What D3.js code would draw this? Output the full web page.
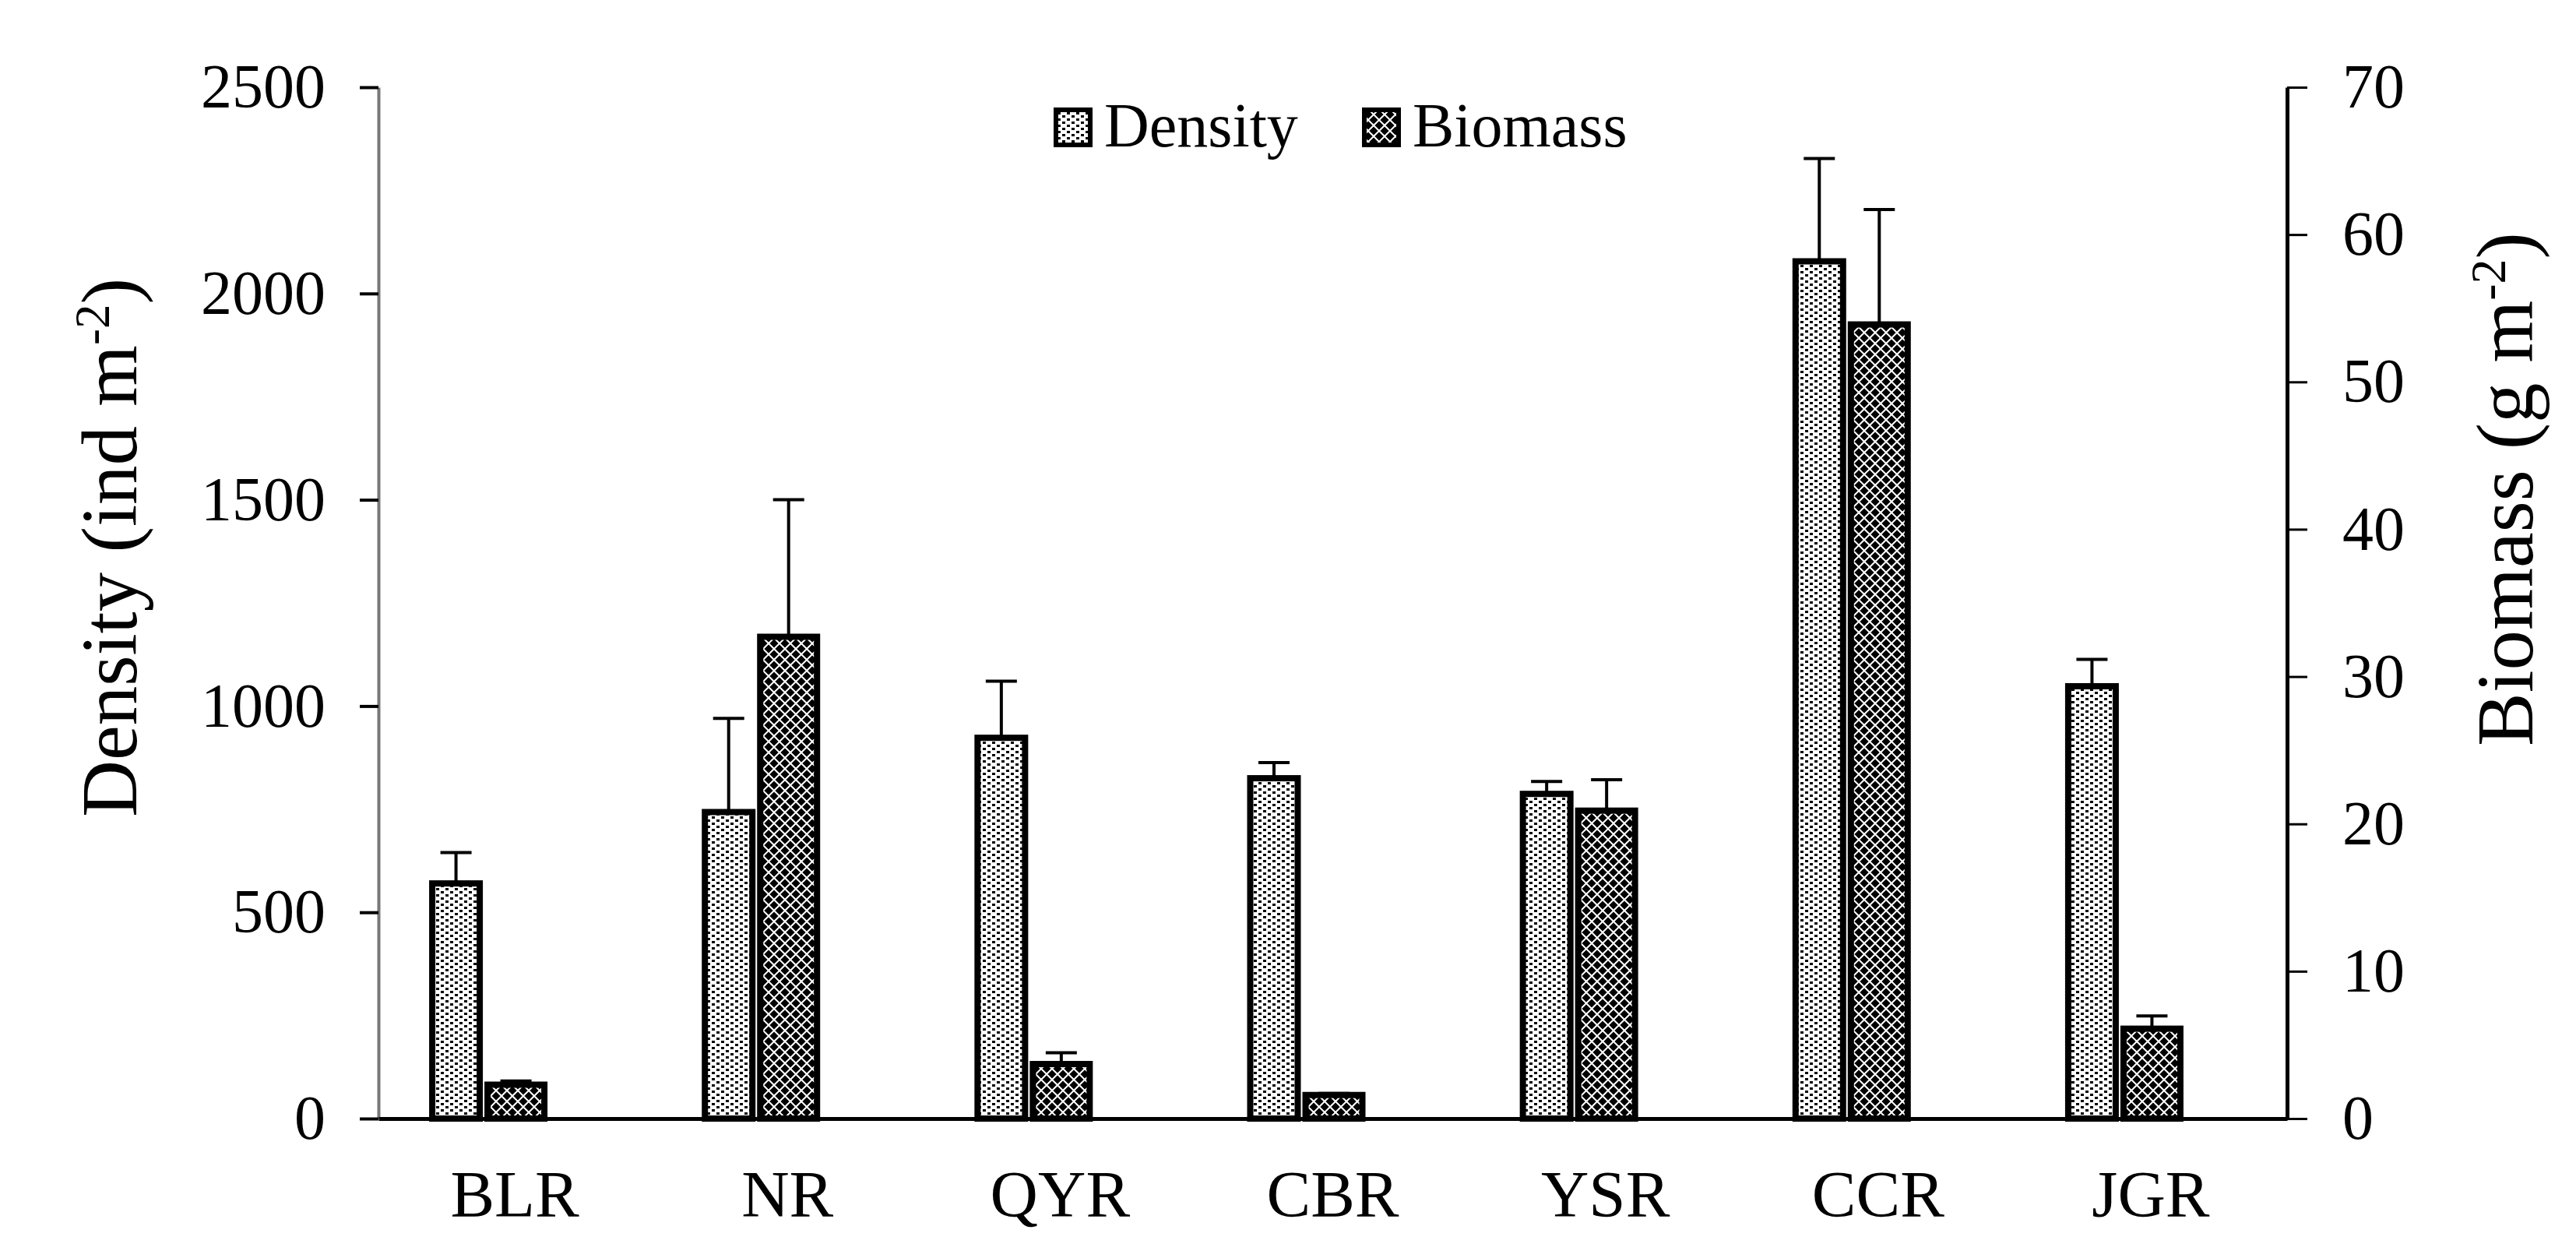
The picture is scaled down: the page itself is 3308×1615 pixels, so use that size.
<!DOCTYPE html>
<html lang="en">
<head>
    <meta charset="UTF-8">
    <title>Density and Biomass</title>
    <style>
        body {
            margin: 0;
            background: #ffffff;
        }
        #chart text {
            font-family: "Times New Roman", "Liberation Serif", serif;
            fill: #000;
        }
    </style>
    <script src="https://d3js.org/d3.v7.min.js"></script>
</head>
<body>
<div id="chart"></div>

<script>
    // Reservoirs on the x axis
    const categories = ["BLR", "NR", "QYR", "CBR", "YSR", "CCR", "JGR"];

    // Density (ind m-2) and its SD
    const density = [570, 743, 923, 825, 787, 2078, 1048];
    const densityErr = [75, 227, 137, 38, 30, 249, 65];

    // Biomass (g m-2) and its SD
    const biomass = [2.3, 32.7, 3.7, 1.6, 20.9, 53.9, 6.1];
    const biomassErr = [0.25, 9.3, 0.77, 0.1, 2.1, 7.8, 0.86];

    // Tick labels for the two value axes
    const densityTicks = [0, 500, 1000, 1500, 2000, 2500];
    const biomassTicks = [0, 10, 20, 30, 40, 50, 60, 70];

    const seriesNames = ["Density", "Biomass"];

    const W = 3308, H = 1615;
    const plotLeft = 486, plotRight = 2937, plotTop = 112, plotBottom = 1436;

    const svg = d3.select("#chart").append("svg")
        .attr("width", W)
        .attr("height", H)
        .style("display", "block");

    svg.append("rect").attr("width", W).attr("height", H).attr("fill", "#fff");

    // Fill patterns (dotted for density, diamond lattice for biomass)
    const defs = svg.append("defs");
    const pDots = defs.append("pattern")
        .attr("id", "dots")
        .attr("patternUnits", "userSpaceOnUse")
        .attr("width", 12).attr("height", 8);
    pDots.append("rect").attr("width", 12).attr("height", 8).attr("fill", "#fff");
    pDots.append("rect").attr("x", 2).attr("y", 0).attr("width", 4).attr("height", 3).attr("fill", "#000");
    pDots.append("rect").attr("x", 8).attr("y", 4).attr("width", 4).attr("height", 3).attr("fill", "#000");

    const pDiam = defs.append("pattern")
        .attr("id", "diamonds")
        .attr("patternUnits", "userSpaceOnUse")
        .attr("width", 14).attr("height", 14);
    pDiam.append("rect").attr("width", 14).attr("height", 14).attr("fill", "#000");
    pDiam.append("path")
        .attr("d", "M0,7 L7,0 L14,7 L7,14 Z")
        .attr("fill", "none")
        .attr("stroke", "#fff")
        .attr("stroke-width", 2);

    // Scales
    const x = d3.scaleBand().domain(categories).range([plotLeft, plotRight]);
    const yL = d3.scaleLinear().domain([0, 2500]).range([plotBottom, plotTop]);
    const yR = d3.scaleLinear().domain([0, 70]).range([plotBottom, plotTop]);

    // Bars sit left of the band centre: biomass on the centre, density next to it
    const dOff = -106, dW = 61;
    const bOff = -35, bW = 73;
    const cx = c => x(c) + x.bandwidth() / 2;

    const rows = categories.map((c, i) => ({
        c: c, d: density[i], de: densityErr[i], b: biomass[i], be: biomassErr[i]
    }));

    // Density bars
    svg.selectAll(".dbar")
        .data(rows)
        .enter().append("rect")
        .attr("class", "dbar")
        .attr("x", d => cx(d.c) + dOff)
        .attr("y", d => yL(d.d))
        .attr("width", dW)
        .attr("height", d => yL(0) - yL(d.d))
        .attr("fill", "url(#dots)")
        .attr("stroke", "#000")
        .attr("stroke-width", 8);

    // Biomass bars
    svg.selectAll(".bbar")
        .data(rows)
        .enter().append("rect")
        .attr("class", "bbar")
        .attr("x", d => cx(d.c) + bOff)
        .attr("y", d => yR(d.b))
        .attr("width", bW)
        .attr("height", d => yR(0) - yR(d.b))
        .attr("fill", "url(#diamonds)")
        .attr("stroke", "#000")
        .attr("stroke-width", 8);

    // Error bars (upper half only)
    function errorBars(cls, xc, yTop, yEnd) {
        const g = svg.selectAll("." + cls)
            .data(rows)
            .enter().append("g")
            .attr("class", cls);
        g.append("line")
            .attr("x1", xc).attr("x2", xc)
            .attr("y1", yTop).attr("y2", yEnd)
            .attr("stroke", "#000").attr("stroke-width", 4);
        g.append("line")
            .attr("x1", d => xc(d) - 20).attr("x2", d => xc(d) + 20)
            .attr("y1", yEnd).attr("y2", yEnd)
            .attr("stroke", "#000").attr("stroke-width", 4);
    }
    errorBars("derr", d => cx(d.c) + dOff + dW / 2, d => yL(d.d), d => yL(d.d + d.de));
    errorBars("berr", d => cx(d.c) + bOff + bW / 2, d => yR(d.b), d => yR(d.b + d.be));

    // Left axis
    const gL = svg.append("g")
        .attr("transform", `translate(${plotLeft},0)`)
        .call(d3.axisLeft(yL).tickValues(densityTicks).tickFormat(d3.format("d"))
            .tickSize(24).tickSizeOuter(0).tickPadding(44));
    gL.select(".domain").attr("stroke", "#777").attr("stroke-width", 4);
    gL.selectAll(".tick line").attr("stroke", "#000").attr("stroke-width", 4);
    gL.selectAll(".tick text").style("font-size", "80px");

    // Right axis
    const gR = svg.append("g")
        .attr("transform", `translate(${plotRight},0)`)
        .call(d3.axisRight(yR).tickValues(biomassTicks).tickFormat(d3.format("d"))
            .tickSize(26).tickSizeOuter(0).tickPadding(45));
    gR.select(".domain").attr("stroke", "#000").attr("stroke-width", 5);
    gR.selectAll(".tick line").attr("stroke", "#000").attr("stroke-width", 3);
    gR.selectAll(".tick text").style("font-size", "80px");

    // Bottom axis
    const gB = svg.append("g")
        .attr("transform", `translate(0,${plotBottom})`)
        .call(d3.axisBottom(x).tickSize(0).tickSizeOuter(0).tickPadding(66));
    gB.select(".domain").attr("stroke", "#000").attr("stroke-width", 5);
    gB.selectAll(".tick text").style("font-size", "85px");

    // Axis titles
    const tL = svg.append("text")
        .attr("transform", "translate(175,703) rotate(-90)")
        .attr("text-anchor", "middle")
        .style("font-size", "101px");
    tL.append("tspan").text("Density (ind m");
    tL.append("tspan").attr("baseline-shift", "super").style("font-size", "63px").text("-2");
    tL.append("tspan").text(")");

    const tR = svg.append("text")
        .attr("transform", "translate(3252,628) rotate(-90)")
        .attr("text-anchor", "middle")
        .style("font-size", "103px");
    tR.append("tspan").text("Biomass (g m");
    tR.append("tspan").attr("baseline-shift", "super").style("font-size", "64px").text("-2");
    tR.append("tspan").text(")");

    // Legend
    const legendX = [1356, 1752];
    const legendFill = ["url(#dots)", "url(#diamonds)"];
    const lg = svg.selectAll(".legend")
        .data(seriesNames)
        .enter().append("g")
        .attr("class", "legend");
    lg.append("rect")
        .attr("x", (d, i) => legendX[i])
        .attr("y", 141)
        .attr("width", 44)
        .attr("height", 45)
        .attr("fill", (d, i) => legendFill[i])
        .attr("stroke", "#000")
        .attr("stroke-width", 6);
    lg.append("text")
        .attr("x", (d, i) => legendX[i] + 62)
        .attr("y", 188)
        .style("font-size", "80px")
        .text(d => d);
</script>
</body>
</html>
